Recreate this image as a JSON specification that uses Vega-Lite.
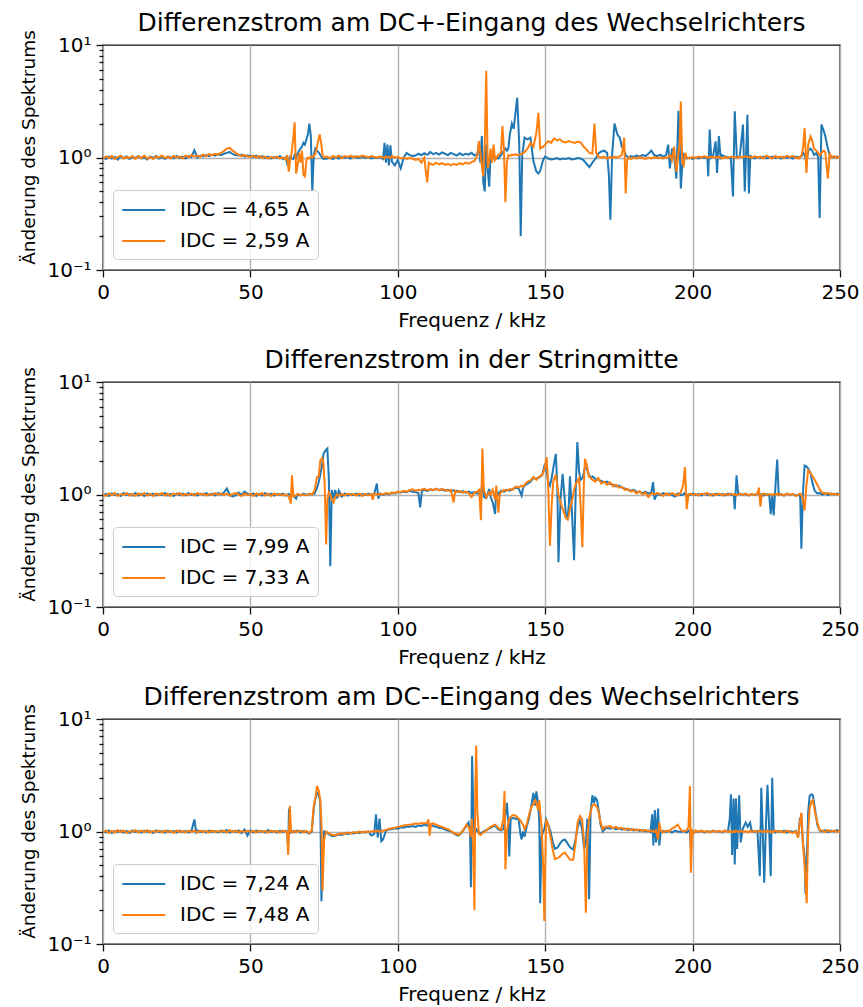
{
"$schema": "https://vega.github.io/schema/vega-lite/v6.json",
"background": "white",
"padding": {"left": 19, "top": 9, "right": 5, "bottom": 3},
"spacing": 15,
"resolve": {"scale": {"color": "independent"}},
"config": {
  "font": "DejaVu Sans",
  "view": {"stroke": "#111111", "strokeWidth": 1.4},
  "axis": {"domain": false, "labelFont": "DejaVu Sans", "labelFontSize": 20, "labelColor": "#000000", "titleFont": "DejaVu Sans", "titleFontSize": 20, "titleFontWeight": "normal", "titleColor": "#000000", "tickColor": "#111111", "tickWidth": 1.3, "gridColor": "#b0b0b0", "gridWidth": 1.4},
  "title": {"fontSize": 25, "font": "DejaVu Sans", "fontWeight": "normal", "color": "#000000", "offset": -6},
  "legend": {"labelFont": "DejaVu Sans", "labelFontSize": 20, "labelColor": "#000000", "symbolType": "M-1,0L3,0", "symbolStrokeWidth": 2, "symbolSize": 462, "padding": 8, "rowPadding": 9, "strokeColor": "#cccccc", "fillColor": "rgba(255,255,255,0.8)", "cornerRadius": 4, "labelOffset": 35}
},
"datasets": {
"p1": [
{"f":0,"a":1.00,"b":0.98},{"f":1,"a":0.97,"b":1.02},{"f":2,"a":1.02,"b":0.99},{"f":3,"a":0.98,"b":1.03},{"f":4,"a":1.01,"b":0.97},{"f":5,"a":0.96,"b":1.01},{"f":6,"a":1.03,"b":1.04},{"f":7,"a":0.99,"b":0.98},{"f":8,"a":1.02,"b":1.01},{"f":9,"a":0.97,"b":0.99},
{"f":10,"a":1.01,"b":1.03},{"f":11,"a":0.99,"b":0.97},{"f":12,"a":1.03,"b":1.02},{"f":13,"a":0.98,"b":0.99},{"f":14,"a":1.00,"b":1.04},{"f":15,"a":0.96,"b":0.98},{"f":16,"a":1.02,"b":1.01},{"f":17,"a":0.99,"b":0.97},{"f":18,"a":1.03,"b":1.02},{"f":19,"a":0.98,"b":1.00},
{"f":20,"a":1.01,"b":1.04},{"f":21,"a":0.97,"b":0.99},{"f":22,"a":1.02,"b":1.02},{"f":23,"a":1.00,"b":0.98},{"f":24,"a":0.98,"b":1.03},{"f":25,"a":1.03,"b":1.00},{"f":26,"a":0.99,"b":1.02},{"f":27,"a":1.02,"b":0.98},{"f":28,"a":0.98,"b":1.04},{"f":29,"a":1.03,"b":1.01},
{"f":30,"a":1.01,"b":1.05},{"f":31,"a":1.16,"b":1.02},{"f":32,"a":1.00,"b":1.04},{"f":33,"a":1.04,"b":1.02},{"f":34,"a":1.02,"b":1.06},{"f":35,"a":1.05,"b":1.03},{"f":36,"a":1.03,"b":1.07},{"f":37,"a":1.06,"b":1.05},{"f":38,"a":1.04,"b":1.08},{"f":39,"a":1.07,"b":1.06},
{"f":40,"a":1.05,"b":1.10},{"f":41,"a":1.08,"b":1.14},{"f":42,"a":1.10,"b":1.20},{"f":43,"a":1.12,"b":1.22},{"f":44,"a":1.07,"b":1.15},{"f":45,"a":1.05,"b":1.10},{"f":46,"a":1.04,"b":1.06},{"f":47,"a":1.06,"b":1.03},{"f":48,"a":1.02,"b":1.05},{"f":49,"a":1.04,"b":1.02},
{"f":50,"a":1.03,"b":1.01},{"f":51,"a":1.01,"b":1.04},{"f":52,"a":1.04,"b":1.00},{"f":53,"a":1.00,"b":1.03},{"f":54,"a":1.03,"b":0.99},{"f":55,"a":0.99,"b":1.02},{"f":56,"a":1.02,"b":0.98},{"f":57,"a":0.98,"b":1.01},{"f":58,"a":1.01,"b":0.99},{"f":59,"a":0.99,"b":1.02},
{"f":60,"a":1.03,"b":0.98},{"f":61,"a":0.97,"b":1.00},{"f":62,"a":1.00,"b":0.96},{"f":62.5,"a":0.88,"b":1.05},{"f":63,"a":0.95,"b":0.75},{"f":63.5,"a":1.02,"b":0.95},{"f":64,"a":0.98,"b":1.10},{"f":64.5,"a":0.97,"b":1.45},{"f":65,"a":1.05,"b":2.05},{"f":65.5,"a":1.00,"b":0.72},
{"f":66,"a":1.08,"b":0.85},{"f":66.5,"a":1.15,"b":1.10},{"f":67,"a":1.20,"b":0.90},{"f":67.5,"a":1.25,"b":1.15},{"f":68,"a":1.35,"b":0.70},{"f":68.5,"a":1.30,"b":0.68},{"f":69,"a":1.45,"b":0.95},{"f":69.5,"a":1.60,"b":1.00},{"f":70,"a":2.00,"b":0.98},{"f":70.5,"a":1.55,"b":1.02},
{"f":71,"a":0.50,"b":1.00},{"f":71.5,"a":1.05,"b":1.03},{"f":72,"a":1.20,"b":1.08},{"f":72.5,"a":1.15,"b":1.20},{"f":73,"a":1.12,"b":1.40},{"f":73.5,"a":1.08,"b":1.60},{"f":74,"a":1.02,"b":1.35},{"f":74.5,"a":0.98,"b":1.05},{"f":75,"a":0.97,"b":1.00},{"f":76,"a":0.98,"b":1.02},
{"f":77,"a":1.00,"b":0.98},{"f":78,"a":0.97,"b":1.03},{"f":79,"a":1.01,"b":1.00},{"f":80,"a":0.98,"b":1.04},{"f":81,"a":1.02,"b":0.99},{"f":82,"a":0.99,"b":1.03},{"f":83,"a":1.01,"b":1.01},{"f":84,"a":0.98,"b":1.04},{"f":85,"a":1.02,"b":1.00},{"f":86,"a":1.00,"b":1.03},
{"f":87,"a":0.99,"b":1.01},{"f":88,"a":1.02,"b":1.04},{"f":89,"a":0.99,"b":1.02},{"f":90,"a":1.01,"b":1.00},{"f":91,"a":0.98,"b":1.03},{"f":92,"a":1.00,"b":1.01},{"f":93,"a":0.99,"b":1.00},{"f":94,"a":1.01,"b":1.02},{"f":95,"a":0.97,"b":1.00},{"f":95.5,"a":1.35,"b":0.98},
{"f":96,"a":0.90,"b":1.02},{"f":96.5,"a":1.30,"b":1.00},{"f":97,"a":0.85,"b":1.01},{"f":97.5,"a":1.28,"b":0.99},{"f":98,"a":0.92,"b":1.03},{"f":99,"a":0.85,"b":1.00},{"f":100,"a":0.95,"b":1.01},{"f":101,"a":0.80,"b":0.98},{"f":102,"a":1.00,"b":1.00},{"f":103,"a":1.10,"b":0.97},
{"f":104,"a":1.05,"b":0.99},{"f":105,"a":1.03,"b":0.98},{"f":106,"a":1.04,"b":0.95},{"f":107,"a":1.08,"b":0.97},{"f":108,"a":1.05,"b":0.90},{"f":109,"a":1.09,"b":1.00},{"f":109.5,"a":1.07,"b":0.75},{"f":110,"a":1.06,"b":0.60},{"f":110.5,"a":1.08,"b":0.90},{"f":111,"a":1.12,"b":0.88},
{"f":112,"a":1.07,"b":0.86},{"f":113,"a":1.10,"b":0.90},{"f":114,"a":1.06,"b":0.87},{"f":115,"a":1.11,"b":0.89},{"f":116,"a":1.08,"b":0.86},{"f":117,"a":1.05,"b":0.88},{"f":118,"a":1.10,"b":0.85},{"f":119,"a":1.07,"b":0.88},{"f":120,"a":1.04,"b":0.86},{"f":121,"a":1.09,"b":0.89},
{"f":122,"a":1.05,"b":0.87},{"f":123,"a":1.08,"b":0.90},{"f":124,"a":1.06,"b":0.88},{"f":125,"a":1.10,"b":0.91},{"f":126,"a":1.04,"b":0.93},{"f":127,"a":1.08,"b":1.05},{"f":127.5,"a":1.30,"b":1.40},{"f":128,"a":0.90,"b":1.10},{"f":128.5,"a":1.55,"b":0.85},{"f":129,"a":0.60,"b":0.68},
{"f":129.5,"a":0.50,"b":1.30},{"f":130,"a":1.30,"b":5.90},{"f":130.5,"a":0.80,"b":0.80},{"f":131,"a":0.55,"b":0.93},{"f":131.5,"a":1.10,"b":1.20},{"f":132,"a":0.95,"b":0.90},{"f":132.5,"a":1.05,"b":1.30},{"f":133,"a":1.00,"b":0.95},{"f":134,"a":0.98,"b":1.05},{"f":135,"a":1.05,"b":1.10},
{"f":135.5,"a":1.10,"b":1.90},{"f":136,"a":1.15,"b":1.20},{"f":136.5,"a":1.20,"b":0.40},{"f":137,"a":1.15,"b":0.90},{"f":137.5,"a":1.20,"b":1.05},{"f":138,"a":1.60,"b":1.03},{"f":138.7,"a":2.00,"b":1.06},{"f":139.3,"a":1.80,"b":1.05},{"f":140,"a":2.60,"b":1.07},{"f":140.5,"a":3.40,"b":1.05},
{"f":141.2,"a":1.30,"b":1.06},{"f":141.7,"a":0.20,"b":1.07},{"f":142.2,"a":1.05,"b":1.08},{"f":143,"a":1.50,"b":1.12},{"f":144,"a":1.45,"b":1.20},{"f":145,"a":1.50,"b":1.35},{"f":146,"a":0.93,"b":1.25},{"f":147,"a":0.75,"b":1.65},{"f":147.7,"a":0.72,"b":2.50},{"f":148.3,"a":0.76,"b":1.20},
{"f":149.3,"a":0.95,"b":1.25},{"f":150,"a":1.02,"b":1.30},{"f":151,"a":0.98,"b":1.40},{"f":152,"a":0.96,"b":1.35},{"f":153,"a":0.97,"b":1.48},{"f":154,"a":0.99,"b":1.42},{"f":155,"a":0.96,"b":1.45},{"f":156,"a":0.98,"b":1.38},{"f":157,"a":0.97,"b":1.36},{"f":158,"a":0.99,"b":1.40},
{"f":159,"a":0.96,"b":1.37},{"f":160,"a":0.97,"b":1.35},{"f":161,"a":0.99,"b":1.38},{"f":162,"a":0.98,"b":1.36},{"f":163,"a":0.95,"b":1.25},{"f":164,"a":0.88,"b":1.18},{"f":165,"a":0.82,"b":1.10},{"f":166,"a":0.90,"b":1.08},{"f":166.7,"a":0.95,"b":2.00},{"f":167.3,"a":1.00,"b":1.10},
{"f":168,"a":1.08,"b":1.02},{"f":169,"a":1.13,"b":1.00},{"f":170,"a":1.15,"b":1.02},{"f":171,"a":1.10,"b":0.98},{"f":171.6,"a":0.70,"b":1.00},{"f":172.1,"a":0.28,"b":1.01},{"f":172.7,"a":1.05,"b":0.99},{"f":173.5,"a":2.00,"b":1.02},{"f":174.5,"a":1.60,"b":1.00},{"f":175.3,"a":1.50,"b":1.03},
{"f":176,"a":1.25,"b":1.05},{"f":176.8,"a":1.15,"b":1.50},{"f":177.3,"a":1.05,"b":0.48},{"f":177.8,"a":1.02,"b":0.95},{"f":178.5,"a":1.00,"b":1.00},{"f":179,"a":1.03,"b":0.97},{"f":180,"a":1.01,"b":1.00},{"f":181,"a":1.04,"b":0.98},{"f":182,"a":1.02,"b":1.01},{"f":183,"a":1.05,"b":0.99},
{"f":184,"a":1.03,"b":0.97},{"f":185,"a":1.08,"b":1.00},{"f":186,"a":1.15,"b":0.98},{"f":187,"a":1.05,"b":1.01},{"f":188,"a":1.03,"b":0.99},{"f":189,"a":1.06,"b":1.00},{"f":190,"a":1.02,"b":0.98},{"f":191,"a":1.05,"b":1.00},{"f":191.7,"a":1.30,"b":1.00},{"f":192.3,"a":0.80,"b":1.05},
{"f":193,"a":1.20,"b":0.95},{"f":193.7,"a":1.05,"b":1.25},{"f":194.5,"a":0.65,"b":0.75},{"f":195.2,"a":2.60,"b":1.10},{"f":195.6,"a":1.40,"b":1.30},{"f":196,"a":0.53,"b":3.15},{"f":196.5,"a":0.85,"b":0.90},{"f":197,"a":1.05,"b":0.85},{"f":197.5,"a":1.00,"b":1.10},{"f":198,"a":0.98,"b":1.00},
{"f":199,"a":1.00,"b":0.98},{"f":200,"a":0.97,"b":1.01},{"f":201,"a":1.00,"b":0.99},{"f":202,"a":0.98,"b":1.02},{"f":203,"a":1.01,"b":1.00},{"f":204,"a":0.99,"b":1.03},{"f":205,"a":1.00,"b":0.99},{"f":205.3,"a":0.68,"b":1.01},{"f":205.8,"a":1.77,"b":1.00},{"f":206.3,"a":1.00,"b":1.02},
{"f":207,"a":1.05,"b":1.00},{"f":207.8,"a":1.39,"b":1.01},{"f":208.3,"a":0.73,"b":0.99},{"f":208.9,"a":1.55,"b":1.02},{"f":209.5,"a":1.00,"b":1.00},{"f":210,"a":1.05,"b":0.98},{"f":211,"a":1.02,"b":1.01},{"f":212,"a":1.00,"b":0.99},{"f":213,"a":0.98,"b":1.02},{"f":213.7,"a":0.45,"b":1.00},
{"f":214.3,"a":2.57,"b":1.01},{"f":215,"a":1.00,"b":0.99},{"f":216,"a":1.02,"b":1.02},{"f":217.1,"a":1.96,"b":1.00},{"f":217.7,"a":0.50,"b":1.03},{"f":218.6,"a":2.40,"b":1.01},{"f":219.1,"a":0.48,"b":1.00},{"f":219.6,"a":1.05,"b":1.02},{"f":220,"a":1.00,"b":0.99},{"f":221,"a":0.98,"b":1.03},
{"f":222,"a":1.01,"b":1.00},{"f":223,"a":0.99,"b":1.02},{"f":224,"a":1.02,"b":0.98},{"f":225,"a":0.98,"b":1.04},{"f":226,"a":1.00,"b":1.01},{"f":227,"a":1.02,"b":0.98},{"f":228,"a":0.99,"b":1.03},{"f":229,"a":1.01,"b":1.00},{"f":230,"a":0.98,"b":1.02},{"f":231,"a":1.02,"b":0.99},
{"f":232,"a":0.99,"b":1.04},{"f":233,"a":1.01,"b":1.01},{"f":234,"a":0.98,"b":1.03},{"f":235,"a":1.02,"b":1.00},{"f":236,"a":1.00,"b":0.98},{"f":237,"a":1.03,"b":1.05},{"f":237.5,"a":1.10,"b":1.25},{"f":238,"a":1.05,"b":1.83},{"f":238.6,"a":0.90,"b":0.73},{"f":239.2,"a":1.15,"b":1.30},
{"f":240,"a":1.20,"b":1.54},{"f":240.6,"a":1.15,"b":1.40},{"f":241.2,"a":1.05,"b":1.20},{"f":242,"a":1.10,"b":1.15},{"f":242.6,"a":1.00,"b":1.10},{"f":243.1,"a":0.29,"b":1.05},{"f":243.7,"a":1.96,"b":1.10},{"f":244.4,"a":1.75,"b":1.15},{"f":245,"a":1.55,"b":1.12},{"f":245.9,"a":1.20,"b":0.65},
{"f":246.5,"a":1.05,"b":1.10},{"f":247,"a":1.02,"b":1.00},{"f":248,"a":1.00,"b":1.03},{"f":249,"a":1.02,"b":0.99},{"f":250,"a":1.00,"b":1.02}
],
"p2": [
{"f":0,"a":0.98,"b":1.00},{"f":1,"a":1.01,"b":0.97},{"f":2,"a":0.97,"b":1.02},{"f":3,"a":1.02,"b":0.99},{"f":4,"a":0.99,"b":1.03},{"f":5,"a":1.01,"b":0.97},{"f":6,"a":0.97,"b":1.01},{"f":7,"a":1.03,"b":0.99},{"f":8,"a":0.99,"b":1.03},{"f":9,"a":1.01,"b":0.98},
{"f":10,"a":0.98,"b":1.01},{"f":11,"a":1.03,"b":0.97},{"f":12,"a":0.98,"b":1.02},{"f":13,"a":1.01,"b":0.99},{"f":14,"a":0.97,"b":1.03},{"f":15,"a":1.02,"b":0.98},{"f":16,"a":0.99,"b":1.01},{"f":17,"a":1.02,"b":0.97},{"f":18,"a":0.98,"b":1.02},{"f":19,"a":1.01,"b":0.99},
{"f":20,"a":0.99,"b":1.03},{"f":21,"a":1.03,"b":0.98},{"f":22,"a":0.98,"b":1.01},{"f":23,"a":1.01,"b":0.97},{"f":24,"a":0.97,"b":1.02},{"f":25,"a":1.02,"b":1.00},{"f":26,"a":0.99,"b":1.03},{"f":27,"a":1.02,"b":0.98},{"f":28,"a":0.98,"b":1.01},{"f":29,"a":1.03,"b":0.99},
{"f":30,"a":0.99,"b":1.02},{"f":31,"a":1.01,"b":0.98},{"f":32,"a":0.98,"b":1.03},{"f":33,"a":1.02,"b":1.00},{"f":34,"a":1.00,"b":1.02},{"f":35,"a":1.03,"b":0.98},{"f":36,"a":0.99,"b":1.01},{"f":37,"a":1.02,"b":0.99},{"f":38,"a":0.98,"b":1.03},{"f":39,"a":1.03,"b":1.00},
{"f":40,"a":1.00,"b":1.02},{"f":41,"a":1.04,"b":0.99},{"f":42,"a":1.13,"b":1.02},{"f":43,"a":0.99,"b":0.98},{"f":44,"a":0.96,"b":1.01},{"f":45,"a":0.98,"b":1.03},{"f":46,"a":1.04,"b":1.00},{"f":47,"a":0.99,"b":0.97},{"f":48,"a":1.06,"b":1.02},{"f":49,"a":1.02,"b":0.99},
{"f":50,"a":0.99,"b":1.01},{"f":51,"a":1.02,"b":0.97},{"f":52,"a":0.97,"b":1.02},{"f":53,"a":1.01,"b":0.99},{"f":54,"a":0.98,"b":1.03},{"f":55,"a":1.03,"b":0.98},{"f":56,"a":0.99,"b":1.01},{"f":57,"a":1.02,"b":0.97},{"f":58,"a":0.98,"b":1.02},{"f":59,"a":1.01,"b":0.99},
{"f":60,"a":0.99,"b":1.01},{"f":61,"a":1.02,"b":0.98},{"f":62,"a":0.98,"b":1.00},{"f":63,"a":1.01,"b":0.97},{"f":63.7,"a":0.97,"b":0.83},{"f":64.1,"a":1.00,"b":1.48},{"f":64.6,"a":0.98,"b":0.96},{"f":65.5,"a":0.92,"b":0.98},{"f":66,"a":1.00,"b":1.01},{"f":67,"a":0.98,"b":0.99},
{"f":68,"a":1.02,"b":1.00},{"f":69,"a":0.99,"b":0.98},{"f":70,"a":1.01,"b":1.02},{"f":71,"a":1.00,"b":1.00},{"f":71.8,"a":1.02,"b":1.10},{"f":72.6,"a":1.15,"b":1.43},{"f":73.2,"a":1.30,"b":1.45},{"f":73.7,"a":1.50,"b":2.00},{"f":74.3,"a":1.80,"b":2.10},{"f":74.8,"a":2.30,"b":1.90},
{"f":75.2,"a":2.40,"b":1.20},{"f":75.7,"a":2.50,"b":0.36},{"f":76.1,"a":2.56,"b":0.90},{"f":76.6,"a":1.40,"b":1.05},{"f":77.1,"a":0.23,"b":1.00},{"f":77.6,"a":1.10,"b":0.90},{"f":78.2,"a":0.92,"b":0.85},{"f":78.8,"a":1.10,"b":0.95},{"f":79.4,"a":0.92,"b":1.00},{"f":80,"a":1.08,"b":0.97},
{"f":81,"a":0.96,"b":1.01},{"f":82,"a":1.02,"b":0.98},{"f":83,"a":0.98,"b":1.02},{"f":84,"a":1.01,"b":0.99},{"f":85,"a":0.99,"b":1.01},{"f":86,"a":1.02,"b":0.98},{"f":87,"a":0.98,"b":1.02},{"f":88,"a":1.01,"b":0.97},{"f":89,"a":0.99,"b":1.01},{"f":90,"a":1.02,"b":0.99},
{"f":91,"a":0.99,"b":1.01},{"f":91.5,"a":1.00,"b":0.90},{"f":92,"a":1.01,"b":1.02},{"f":92.9,"a":1.25,"b":1.01},{"f":93.4,"a":0.92,"b":0.99},{"f":94,"a":1.02,"b":1.02},{"f":95,"a":0.99,"b":1.00},{"f":96,"a":1.02,"b":1.03},{"f":97,"a":1.00,"b":1.01},{"f":98,"a":1.03,"b":1.04},
{"f":99,"a":1.02,"b":1.03},{"f":100,"a":1.05,"b":1.06},{"f":101,"a":1.04,"b":1.05},{"f":102,"a":1.06,"b":1.08},{"f":103,"a":1.05,"b":1.06},{"f":104,"a":1.08,"b":1.09},{"f":105,"a":1.06,"b":1.11},{"f":106,"a":1.05,"b":1.08},{"f":107,"a":1.03,"b":1.10},{"f":107.6,"a":0.77,"b":1.09},
{"f":108.2,"a":1.08,"b":1.11},{"f":109,"a":1.10,"b":1.13},{"f":110,"a":1.07,"b":1.09},{"f":111,"a":1.11,"b":1.12},{"f":112,"a":1.09,"b":1.10},{"f":113,"a":1.12,"b":1.13},{"f":114,"a":1.10,"b":1.09},{"f":115,"a":1.11,"b":1.12},{"f":116,"a":1.08,"b":1.10},{"f":117,"a":1.10,"b":1.08},
{"f":118,"a":1.07,"b":1.10},{"f":118.9,"a":1.09,"b":0.85},{"f":119.5,"a":1.06,"b":1.08},{"f":120,"a":1.08,"b":1.05},{"f":121,"a":1.05,"b":1.07},{"f":122,"a":1.07,"b":1.04},{"f":123,"a":1.04,"b":1.06},{"f":124,"a":1.06,"b":1.03},{"f":125,"a":1.03,"b":0.95},{"f":126,"a":1.05,"b":1.04},
{"f":127,"a":1.02,"b":1.06},{"f":127.6,"a":1.04,"b":1.10},{"f":128.2,"a":1.00,"b":0.59},{"f":128.7,"a":1.30,"b":2.56},{"f":129.2,"a":0.95,"b":1.10},{"f":130,"a":0.93,"b":0.95},{"f":131,"a":1.12,"b":1.05},{"f":131.5,"a":0.95,"b":1.00},{"f":132.2,"a":0.85,"b":1.10},{"f":133,"a":0.67,"b":0.90},
{"f":133.4,"a":1.10,"b":1.20},{"f":134.1,"a":1.00,"b":0.69},{"f":134.6,"a":1.05,"b":1.00},{"f":135,"a":1.08,"b":1.05},{"f":136,"a":1.06,"b":1.10},{"f":137,"a":1.10,"b":1.08},{"f":138,"a":1.08,"b":1.12},{"f":139,"a":1.12,"b":1.10},{"f":140,"a":1.15,"b":1.18},{"f":141,"a":1.13,"b":1.15},
{"f":142,"a":0.98,"b":1.20},{"f":142.5,"a":1.15,"b":1.18},{"f":143,"a":1.20,"b":1.22},{"f":144,"a":1.25,"b":1.30},{"f":145,"a":1.30,"b":1.33},{"f":146,"a":1.40,"b":1.43},{"f":147,"a":1.38,"b":1.35},{"f":148,"a":1.42,"b":1.45},{"f":149,"a":1.50,"b":1.48},{"f":149.9,"a":1.88,"b":1.75},
{"f":150.5,"a":1.60,"b":2.15},{"f":151,"a":1.30,"b":1.20},{"f":151.6,"a":1.20,"b":0.35},{"f":152.2,"a":1.40,"b":0.80},{"f":152.7,"a":1.70,"b":1.30},{"f":153.6,"a":2.30,"b":1.50},{"f":154.1,"a":1.20,"b":1.20},{"f":154.5,"a":0.25,"b":1.00},{"f":155.2,"a":0.90,"b":0.85},{"f":155.9,"a":1.53,"b":0.75},
{"f":156.5,"a":1.00,"b":0.68},{"f":157,"a":0.66,"b":0.62},{"f":157.6,"a":0.62,"b":0.60},{"f":158,"a":0.80,"b":0.65},{"f":158.4,"a":1.45,"b":0.75},{"f":159.2,"a":0.60,"b":0.90},{"f":159.8,"a":0.26,"b":1.10},{"f":160.4,"a":1.20,"b":1.25},{"f":160.9,"a":2.93,"b":1.30},{"f":161.5,"a":1.60,"b":1.40},
{"f":162,"a":1.35,"b":0.80},{"f":162.6,"a":1.40,"b":0.34},{"f":163.1,"a":1.55,"b":1.20},{"f":163.5,"a":1.75,"b":2.08},{"f":164.2,"a":1.70,"b":1.80},{"f":164.8,"a":1.50,"b":1.45},{"f":165.5,"a":1.40,"b":1.40},{"f":166,"a":1.45,"b":1.35},{"f":167,"a":1.38,"b":1.30},{"f":168,"a":1.35,"b":1.40},
{"f":169,"a":1.32,"b":1.25},{"f":170,"a":1.28,"b":1.30},{"f":171,"a":1.30,"b":1.22},{"f":172,"a":1.24,"b":1.28},{"f":173,"a":1.22,"b":1.18},{"f":174,"a":1.18,"b":1.22},{"f":175,"a":1.20,"b":1.15},{"f":176,"a":1.15,"b":1.17},{"f":177,"a":1.13,"b":1.10},{"f":178,"a":1.10,"b":1.12},
{"f":179,"a":1.08,"b":1.06},{"f":180,"a":1.10,"b":1.08},{"f":181,"a":1.06,"b":1.02},{"f":182,"a":1.05,"b":1.07},{"f":183,"a":1.03,"b":1.00},{"f":184,"a":1.06,"b":1.04},{"f":185,"a":1.02,"b":0.95},{"f":186,"a":1.05,"b":1.03},{"f":186.6,"a":1.29,"b":1.02},{"f":187.1,"a":0.90,"b":1.00},
{"f":188,"a":1.02,"b":1.03},{"f":189,"a":0.99,"b":1.01},{"f":190,"a":1.03,"b":0.97},{"f":191,"a":1.00,"b":1.02},{"f":192,"a":1.02,"b":0.99},{"f":193,"a":0.99,"b":1.03},{"f":194,"a":0.96,"b":1.00},{"f":195,"a":1.02,"b":0.98},{"f":196,"a":0.99,"b":1.05},{"f":196.8,"a":1.00,"b":1.20},
{"f":197.4,"a":1.03,"b":1.75},{"f":198,"a":0.98,"b":0.74},{"f":198.6,"a":1.00,"b":1.00},{"f":199.2,"a":0.99,"b":1.02},{"f":200,"a":1.02,"b":0.99},{"f":201,"a":0.99,"b":1.01},{"f":202,"a":1.01,"b":0.98},{"f":203,"a":0.98,"b":1.02},{"f":204,"a":1.02,"b":1.00},{"f":205,"a":0.99,"b":1.03},
{"f":206,"a":1.01,"b":0.98},{"f":207,"a":0.98,"b":1.01},{"f":208,"a":1.02,"b":0.99},{"f":209,"a":0.99,"b":1.02},{"f":210,"a":1.01,"b":0.98},{"f":211,"a":0.98,"b":1.01},{"f":212,"a":1.02,"b":0.99},{"f":213,"a":1.00,"b":1.02},{"f":214,"a":0.98,"b":0.99},{"f":214.3,"a":0.74,"b":1.01},
{"f":214.9,"a":1.48,"b":0.98},{"f":215.5,"a":1.00,"b":1.00},{"f":216,"a":1.02,"b":1.02},{"f":217,"a":0.99,"b":0.99},{"f":218,"a":1.01,"b":1.02},{"f":219,"a":0.98,"b":0.98},{"f":220,"a":1.01,"b":1.01},{"f":221,"a":0.99,"b":0.99},{"f":222,"a":1.02,"b":1.02},{"f":222.5,"a":1.00,"b":1.15},
{"f":223,"a":0.99,"b":0.78},{"f":223.5,"a":1.01,"b":1.00},{"f":224,"a":0.98,"b":1.02},{"f":225,"a":1.01,"b":0.99},{"f":226,"a":0.99,"b":1.01},{"f":226.5,"a":0.67,"b":1.00},{"f":227,"a":1.00,"b":0.98},{"f":227.5,"a":0.65,"b":1.01},{"f":228.2,"a":1.30,"b":1.00},{"f":228.7,"a":2.04,"b":1.02},
{"f":229.2,"a":1.00,"b":0.99},{"f":230,"a":1.01,"b":1.01},{"f":231,"a":0.98,"b":0.98},{"f":232,"a":1.02,"b":1.02},{"f":233,"a":0.99,"b":0.99},{"f":234,"a":1.01,"b":1.01},{"f":235,"a":0.98,"b":0.97},{"f":236,"a":1.00,"b":1.00},{"f":236.5,"a":0.95,"b":1.02},{"f":236.9,"a":0.33,"b":1.00},
{"f":237.4,"a":1.00,"b":0.90},{"f":238,"a":1.81,"b":0.72},{"f":238.6,"a":1.78,"b":1.20},{"f":239.2,"a":1.70,"b":1.64},{"f":240,"a":1.55,"b":1.55},{"f":240.7,"a":1.25,"b":1.45},{"f":241.4,"a":1.08,"b":1.35},{"f":242.3,"a":1.02,"b":1.22},{"f":243.2,"a":1.03,"b":1.10},{"f":244,"a":1.00,"b":1.04},
{"f":245,"a":1.03,"b":1.02},{"f":246,"a":0.99,"b":1.03},{"f":247,"a":1.02,"b":1.00},{"f":248,"a":1.00,"b":1.02},{"f":249,"a":1.02,"b":0.99},{"f":250,"a":1.00,"b":1.01}
],
"p3": [
{"f":0,"a":1.00,"b":0.98},{"f":1,"a":0.98,"b":1.02},{"f":2,"a":1.02,"b":0.97},{"f":3,"a":0.97,"b":1.01},{"f":4,"a":1.01,"b":0.98},{"f":5,"a":0.99,"b":1.03},{"f":6,"a":1.02,"b":0.99},{"f":7,"a":0.98,"b":1.02},{"f":8,"a":1.01,"b":0.97},{"f":9,"a":0.97,"b":1.01},
{"f":10,"a":1.02,"b":0.99},{"f":11,"a":0.99,"b":1.03},{"f":12,"a":1.01,"b":0.98},{"f":13,"a":0.98,"b":1.02},{"f":14,"a":1.02,"b":0.99},{"f":15,"a":0.99,"b":1.03},{"f":16,"a":1.01,"b":0.98},{"f":17,"a":0.97,"b":1.01},{"f":18,"a":1.02,"b":0.99},{"f":19,"a":0.99,"b":1.02},
{"f":20,"a":1.01,"b":0.98},{"f":21,"a":0.98,"b":1.02},{"f":22,"a":1.02,"b":0.99},{"f":23,"a":0.99,"b":1.01},{"f":24,"a":1.01,"b":0.97},{"f":25,"a":0.98,"b":1.02},{"f":26,"a":1.02,"b":0.99},{"f":27,"a":0.99,"b":1.01},{"f":28,"a":1.01,"b":0.98},{"f":29,"a":0.98,"b":1.02},
{"f":30,"a":1.01,"b":0.99},{"f":31,"a":1.28,"b":1.02},{"f":31.6,"a":0.99,"b":1.00},{"f":32,"a":1.02,"b":0.98},{"f":33,"a":0.99,"b":1.02},{"f":34,"a":1.01,"b":0.99},{"f":35,"a":0.98,"b":1.01},{"f":36,"a":1.02,"b":0.98},{"f":37,"a":0.99,"b":1.02},{"f":38,"a":1.01,"b":0.99},
{"f":39,"a":0.98,"b":1.01},{"f":40,"a":1.02,"b":0.99},{"f":41,"a":0.99,"b":1.02},{"f":42,"a":1.03,"b":0.98},{"f":43,"a":0.98,"b":1.03},{"f":44,"a":1.01,"b":0.99},{"f":45,"a":0.99,"b":1.02},{"f":46,"a":1.02,"b":0.98},{"f":47,"a":0.97,"b":1.01},{"f":48,"a":1.04,"b":0.99},
{"f":49,"a":0.92,"b":1.02},{"f":50,"a":1.02,"b":0.99},{"f":51,"a":0.98,"b":1.01},{"f":52,"a":1.02,"b":0.98},{"f":53,"a":0.99,"b":1.02},{"f":54,"a":1.01,"b":0.99},{"f":55,"a":0.98,"b":1.01},{"f":56,"a":1.03,"b":0.98},{"f":57,"a":0.99,"b":1.02},{"f":58,"a":1.01,"b":0.99},
{"f":59,"a":0.98,"b":1.01},{"f":60,"a":1.02,"b":0.98},{"f":61,"a":0.99,"b":1.02},{"f":62,"a":1.01,"b":0.99},{"f":62.5,"a":0.98,"b":1.00},{"f":62.8,"a":0.70,"b":0.62},{"f":63.1,"a":1.60,"b":1.00},{"f":63.4,"a":1.20,"b":1.68},{"f":63.8,"a":0.98,"b":1.00},{"f":64.5,"a":1.01,"b":0.98},
{"f":65,"a":0.99,"b":1.01},{"f":66,"a":1.02,"b":0.99},{"f":67,"a":0.98,"b":1.02},{"f":68,"a":1.01,"b":0.98},{"f":69,"a":0.99,"b":1.01},{"f":70,"a":0.96,"b":0.97},{"f":70.8,"a":1.00,"b":1.02},{"f":71.5,"a":1.60,"b":1.70},{"f":72,"a":1.95,"b":1.93},{"f":72.6,"a":2.20,"b":2.54},
{"f":73.2,"a":2.10,"b":2.30},{"f":73.7,"a":1.85,"b":1.90},{"f":74.1,"a":0.24,"b":1.20},{"f":74.5,"a":0.60,"b":0.30},{"f":75,"a":1.00,"b":0.85},{"f":75.7,"a":0.98,"b":1.00},{"f":76.5,"a":0.95,"b":0.97},{"f":77.7,"a":0.91,"b":0.93},{"f":79,"a":0.92,"b":0.93},{"f":80,"a":0.94,"b":0.95},
{"f":81,"a":0.93,"b":0.96},{"f":82,"a":0.96,"b":0.95},{"f":83,"a":0.95,"b":0.98},{"f":84,"a":0.97,"b":0.96},{"f":85,"a":0.96,"b":0.99},{"f":86,"a":0.98,"b":0.97},{"f":87,"a":0.97,"b":1.00},{"f":88,"a":0.99,"b":0.98},{"f":89,"a":0.98,"b":1.00},{"f":90,"a":1.00,"b":0.99},
{"f":91,"a":0.92,"b":1.00},{"f":92,"a":0.95,"b":1.01},{"f":92.6,"a":1.42,"b":1.00},{"f":93.2,"a":0.88,"b":1.02},{"f":93.8,"a":1.30,"b":0.99},{"f":94.4,"a":0.82,"b":1.01},{"f":95,"a":0.85,"b":1.02},{"f":96,"a":1.02,"b":1.03},{"f":97,"a":1.04,"b":1.06},{"f":98,"a":1.05,"b":1.07},
{"f":99,"a":1.07,"b":1.08},{"f":100,"a":1.06,"b":1.10},{"f":101,"a":1.09,"b":1.11},{"f":102,"a":1.08,"b":1.13},{"f":103,"a":1.11,"b":1.14},{"f":104,"a":1.10,"b":1.15},{"f":105,"a":1.12,"b":1.16},{"f":106,"a":1.10,"b":1.18},{"f":107,"a":1.13,"b":1.17},{"f":108,"a":1.12,"b":1.19},
{"f":109,"a":1.15,"b":1.18},{"f":110,"a":1.13,"b":1.20},{"f":110.4,"a":1.15,"b":1.28},{"f":110.8,"a":1.12,"b":0.92},{"f":111.3,"a":1.14,"b":1.17},{"f":112,"a":1.12,"b":1.18},{"f":113,"a":1.10,"b":1.15},{"f":114,"a":1.08,"b":1.12},{"f":115,"a":1.07,"b":1.10},{"f":116,"a":1.04,"b":1.07},
{"f":117,"a":1.02,"b":1.05},{"f":118,"a":1.00,"b":1.01},{"f":119,"a":0.96,"b":0.97},{"f":120,"a":0.93,"b":0.95},{"f":120.6,"a":0.92,"b":0.93},{"f":121.5,"a":0.97,"b":0.98},{"f":122.5,"a":1.05,"b":1.06},{"f":123.3,"a":1.12,"b":1.15},{"f":124,"a":1.20,"b":1.10},{"f":124.5,"a":1.00,"b":1.00},
{"f":124.8,"a":0.32,"b":0.90},{"f":125.2,"a":4.70,"b":1.30},{"f":125.6,"a":1.60,"b":0.60},{"f":126,"a":0.90,"b":0.20},{"f":126.3,"a":1.00,"b":2.50},{"f":126.6,"a":1.05,"b":5.80},{"f":127,"a":1.02,"b":1.50},{"f":127.5,"a":0.98,"b":0.95},{"f":128,"a":0.96,"b":0.93},{"f":129,"a":1.00,"b":0.98},
{"f":130,"a":1.03,"b":1.02},{"f":131,"a":1.06,"b":1.08},{"f":132,"a":1.10,"b":1.12},{"f":133,"a":1.13,"b":1.15},{"f":134,"a":1.05,"b":1.08},{"f":135,"a":1.02,"b":1.03},{"f":135.8,"a":1.05,"b":1.30},{"f":136.2,"a":1.20,"b":2.29},{"f":136.5,"a":1.40,"b":0.46},{"f":137,"a":1.80,"b":1.00},
{"f":137.5,"a":1.20,"b":1.20},{"f":137.8,"a":0.60,"b":1.30},{"f":138.3,"a":1.30,"b":1.35},{"f":139,"a":1.32,"b":1.40},{"f":140,"a":1.30,"b":1.38},{"f":141,"a":1.28,"b":1.30},{"f":141.6,"a":0.95,"b":1.25},{"f":142,"a":0.85,"b":1.20},{"f":142.5,"a":1.00,"b":1.15},{"f":143,"a":0.90,"b":1.05},
{"f":143.7,"a":1.10,"b":1.15},{"f":144.5,"a":1.30,"b":1.40},{"f":145.3,"a":1.70,"b":1.65},{"f":146,"a":2.20,"b":1.75},{"f":146.6,"a":1.70,"b":1.90},{"f":147,"a":2.27,"b":1.80},{"f":147.6,"a":1.80,"b":1.55},{"f":148,"a":1.20,"b":1.90},{"f":148.3,"a":0.23,"b":1.50},{"f":148.8,"a":0.90,"b":1.10},
{"f":149.3,"a":1.00,"b":0.50},{"f":149.7,"a":1.05,"b":0.16},{"f":150.3,"a":1.28,"b":1.28},{"f":151,"a":1.15,"b":1.15},{"f":151.8,"a":1.00,"b":0.90},{"f":152.5,"a":0.82,"b":0.70},{"f":153.3,"a":0.70,"b":0.57},{"f":154.2,"a":0.72,"b":0.58},{"f":155,"a":0.78,"b":0.60},{"f":155.8,"a":0.83,"b":0.63},
{"f":156.7,"a":0.85,"b":0.65},{"f":157.6,"a":0.78,"b":0.60},{"f":158.5,"a":0.72,"b":0.56},{"f":159.5,"a":0.69,"b":0.56},{"f":160.3,"a":0.85,"b":0.80},{"f":161,"a":1.10,"b":1.20},{"f":161.8,"a":1.25,"b":1.37},{"f":162.5,"a":1.05,"b":1.30},{"f":163.2,"a":0.70,"b":0.80},{"f":163.8,"a":0.80,"b":0.19},
{"f":164.3,"a":1.30,"b":0.90},{"f":164.9,"a":0.25,"b":1.30},{"f":165.4,"a":1.50,"b":1.50},{"f":166,"a":2.10,"b":1.70},{"f":166.6,"a":1.80,"b":1.75},{"f":167,"a":2.00,"b":1.70},{"f":167.6,"a":1.90,"b":1.65},{"f":168.2,"a":1.50,"b":1.45},{"f":168.8,"a":1.15,"b":1.20},{"f":169.5,"a":1.00,"b":1.05},
{"f":170.2,"a":1.05,"b":1.10},{"f":171,"a":1.08,"b":1.10},{"f":172,"a":1.06,"b":1.12},{"f":173,"a":1.08,"b":1.07},{"f":174,"a":1.05,"b":1.10},{"f":175,"a":1.07,"b":1.06},{"f":176,"a":1.04,"b":1.08},{"f":177,"a":1.06,"b":1.04},{"f":178,"a":1.03,"b":1.06},{"f":179,"a":1.05,"b":1.03},
{"f":180,"a":1.02,"b":1.05},{"f":181,"a":1.04,"b":1.02},{"f":182,"a":1.01,"b":1.04},{"f":183,"a":1.03,"b":1.01},{"f":184,"a":1.00,"b":1.03},{"f":185,"a":1.02,"b":1.00},{"f":185.7,"a":0.99,"b":1.02},{"f":186.3,"a":1.42,"b":1.00},{"f":186.7,"a":0.75,"b":1.01},{"f":187.2,"a":1.55,"b":0.99},
{"f":187.6,"a":0.80,"b":1.03},{"f":188.3,"a":1.60,"b":0.85},{"f":188.7,"a":0.75,"b":1.20},{"f":189.2,"a":1.00,"b":1.02},{"f":190,"a":1.01,"b":0.98},{"f":191,"a":0.99,"b":1.02},{"f":192,"a":1.02,"b":1.00},{"f":193,"a":0.98,"b":1.06},{"f":194,"a":1.02,"b":1.10},{"f":195,"a":1.00,"b":1.15},
{"f":196,"a":0.99,"b":1.03},{"f":197,"a":1.01,"b":1.00},{"f":198,"a":0.98,"b":1.02},{"f":198.6,"a":1.02,"b":1.10},{"f":199.1,"a":1.00,"b":2.54},{"f":199.4,"a":0.71,"b":0.43},{"f":199.9,"a":1.00,"b":1.02},{"f":200.5,"a":0.98,"b":0.97},{"f":201,"a":1.01,"b":1.02},{"f":202,"a":0.99,"b":0.99},
{"f":203,"a":1.02,"b":1.02},{"f":204,"a":0.98,"b":0.99},{"f":205,"a":1.01,"b":1.01},{"f":206,"a":0.99,"b":0.98},{"f":207,"a":1.02,"b":1.02},{"f":208,"a":0.99,"b":0.99},{"f":209,"a":1.01,"b":1.01},{"f":210,"a":0.98,"b":0.99},{"f":211,"a":1.02,"b":1.02},{"f":212,"a":1.00,"b":0.99},
{"f":212.6,"a":1.30,"b":1.01},{"f":213,"a":2.14,"b":1.00},{"f":213.4,"a":0.62,"b":0.98},{"f":213.9,"a":1.96,"b":1.01},{"f":214.3,"a":0.51,"b":0.99},{"f":214.7,"a":1.96,"b":1.02},{"f":215.1,"a":0.70,"b":1.00},{"f":215.8,"a":2.10,"b":0.99},{"f":216.3,"a":0.80,"b":1.01},{"f":217,"a":1.05,"b":0.99},
{"f":218,"a":1.20,"b":1.01},{"f":218.7,"a":1.10,"b":0.98},{"f":219.5,"a":1.20,"b":1.02},{"f":220,"a":1.02,"b":0.99},{"f":221,"a":0.99,"b":1.01},{"f":222,"a":1.01,"b":0.99},{"f":222.8,"a":0.40,"b":1.02},{"f":223.3,"a":2.45,"b":1.00},{"f":223.8,"a":1.00,"b":0.99},{"f":224.3,"a":0.35,"b":1.01},
{"f":224.9,"a":1.20,"b":0.99},{"f":225.4,"a":2.60,"b":1.02},{"f":226,"a":1.00,"b":1.00},{"f":226.5,"a":0.40,"b":0.98},{"f":227,"a":3.00,"b":1.01},{"f":227.5,"a":1.00,"b":0.99},{"f":228,"a":0.98,"b":1.02},{"f":229,"a":1.01,"b":0.99},{"f":230,"a":0.99,"b":1.01},{"f":231,"a":1.02,"b":0.98},
{"f":232,"a":0.98,"b":1.02},{"f":233,"a":1.01,"b":0.99},{"f":234,"a":0.99,"b":0.97},{"f":235,"a":1.01,"b":1.00},{"f":235.8,"a":0.90,"b":0.88},{"f":236.4,"a":1.30,"b":1.20},{"f":236.9,"a":1.35,"b":1.47},{"f":237.4,"a":0.80,"b":0.80},{"f":238,"a":0.60,"b":0.50},{"f":238.3,"a":0.28,"b":0.35},
{"f":238.7,"a":0.50,"b":0.23},{"f":239.2,"a":1.50,"b":1.00},{"f":239.7,"a":2.07,"b":1.60},{"f":240.3,"a":2.14,"b":1.85},{"f":240.8,"a":2.10,"b":1.90},{"f":241.5,"a":1.60,"b":1.50},{"f":242.3,"a":1.15,"b":1.20},{"f":243.1,"a":1.02,"b":1.03},{"f":244,"a":1.00,"b":1.02},{"f":245,"a":1.03,"b":0.99},
{"f":246,"a":0.99,"b":1.03},{"f":247,"a":1.02,"b":1.00},{"f":248,"a":1.00,"b":1.02},{"f":249,"a":1.03,"b":0.99},{"f":250,"a":0.99,"b":1.01}
]
},
"vconcat": [
{
  "width": 737, "height": 225,
  "title": "Differenzstrom am DC+-Eingang des Wechselrichters",
  "data": {"name": "p1"},
  "transform": [{"fold": ["a", "b"], "as": ["s", "v"]}],
  "mark": {"type": "line", "strokeWidth": 2, "clip": true},
  "encoding": {
    "x": {"field": "f", "type": "quantitative", "title": "Frequenz / kHz", "scale": {"domain": [0, 250], "nice": false, "zero": false},
      "axis": {"values": [0, 50, 100, 150, 200, 250], "grid": true, "tickSize": 7, "labelPadding": 5, "titlePadding": 8, "labelFlush": false}},
    "y": {"field": "v", "type": "quantitative", "title": "Änderung des Spektrums", "scale": {"type": "log", "domain": [0.1, 10]},
      "axis": {"values": [0.1,0.2,0.3,0.4,0.5,0.6,0.7,0.8,0.9,1,2,3,4,5,6,7,8,9,10], "grid": true,
        "labelExpr": "datum.value == 10 ? '10¹' : datum.value == 1 ? '10⁰' : datum.value == 0.1 ? '10⁻¹' : ''",
        "tickSize": {"condition": {"test": "datum.value == 10 || datum.value == 1 || datum.value == 0.1", "value": 7}, "value": 4},
        "gridOpacity": {"condition": {"test": "datum.value == 1", "value": 1}, "value": 0},
        "labelPadding": 5, "titlePadding": 8, "labelFlush": false, "titleFontSize": 18.5, "titleY": 102}},
    "color": {"field": "s", "type": "nominal", "scale": {"domain": ["a", "b"], "range": ["#1f77b4", "#ff7f0e"]},
      "legend": {"title": null, "orient": "none", "legendX": 10, "legendY": 145, "labelExpr": "datum.label == 'a' ? 'IDC = 4,65 A' : 'IDC = 2,59 A'"}}
  }
},
{
  "width": 737, "height": 225,
  "title": "Differenzstrom in der Stringmitte",
  "data": {"name": "p2"},
  "transform": [{"fold": ["a", "b"], "as": ["s", "v"]}],
  "mark": {"type": "line", "strokeWidth": 2, "clip": true},
  "encoding": {
    "x": {"field": "f", "type": "quantitative", "title": "Frequenz / kHz", "scale": {"domain": [0, 250], "nice": false, "zero": false},
      "axis": {"values": [0, 50, 100, 150, 200, 250], "grid": true, "tickSize": 7, "labelPadding": 5, "titlePadding": 8, "labelFlush": false}},
    "y": {"field": "v", "type": "quantitative", "title": "Änderung des Spektrums", "scale": {"type": "log", "domain": [0.1, 10]},
      "axis": {"values": [0.1,0.2,0.3,0.4,0.5,0.6,0.7,0.8,0.9,1,2,3,4,5,6,7,8,9,10], "grid": true,
        "labelExpr": "datum.value == 10 ? '10¹' : datum.value == 1 ? '10⁰' : datum.value == 0.1 ? '10⁻¹' : ''",
        "tickSize": {"condition": {"test": "datum.value == 10 || datum.value == 1 || datum.value == 0.1", "value": 7}, "value": 4},
        "gridOpacity": {"condition": {"test": "datum.value == 1", "value": 1}, "value": 0},
        "labelPadding": 5, "titlePadding": 8, "labelFlush": false, "titleFontSize": 18.5, "titleY": 102}},
    "color": {"field": "s", "type": "nominal", "scale": {"domain": ["a", "b"], "range": ["#1f77b4", "#ff7f0e"]},
      "legend": {"title": null, "orient": "none", "legendX": 10, "legendY": 145, "labelExpr": "datum.label == 'a' ? 'IDC = 7,99 A' : 'IDC = 7,33 A'"}}
  }
},
{
  "width": 737, "height": 225,
  "title": "Differenzstrom am DC--Eingang des Wechselrichters",
  "data": {"name": "p3"},
  "transform": [{"fold": ["a", "b"], "as": ["s", "v"]}],
  "mark": {"type": "line", "strokeWidth": 2, "clip": true},
  "encoding": {
    "x": {"field": "f", "type": "quantitative", "title": "Frequenz / kHz", "scale": {"domain": [0, 250], "nice": false, "zero": false},
      "axis": {"values": [0, 50, 100, 150, 200, 250], "grid": true, "tickSize": 7, "labelPadding": 5, "titlePadding": 8, "labelFlush": false}},
    "y": {"field": "v", "type": "quantitative", "title": "Änderung des Spektrums", "scale": {"type": "log", "domain": [0.1, 10]},
      "axis": {"values": [0.1,0.2,0.3,0.4,0.5,0.6,0.7,0.8,0.9,1,2,3,4,5,6,7,8,9,10], "grid": true,
        "labelExpr": "datum.value == 10 ? '10¹' : datum.value == 1 ? '10⁰' : datum.value == 0.1 ? '10⁻¹' : ''",
        "tickSize": {"condition": {"test": "datum.value == 10 || datum.value == 1 || datum.value == 0.1", "value": 7}, "value": 4},
        "gridOpacity": {"condition": {"test": "datum.value == 1", "value": 1}, "value": 0},
        "labelPadding": 5, "titlePadding": 8, "labelFlush": false, "titleFontSize": 18.5, "titleY": 102}},
    "color": {"field": "s", "type": "nominal", "scale": {"domain": ["a", "b"], "range": ["#1f77b4", "#ff7f0e"]},
      "legend": {"title": null, "orient": "none", "legendX": 10, "legendY": 145, "labelExpr": "datum.label == 'a' ? 'IDC = 7,24 A' : 'IDC = 7,48 A'"}}
  }
}
]
}
